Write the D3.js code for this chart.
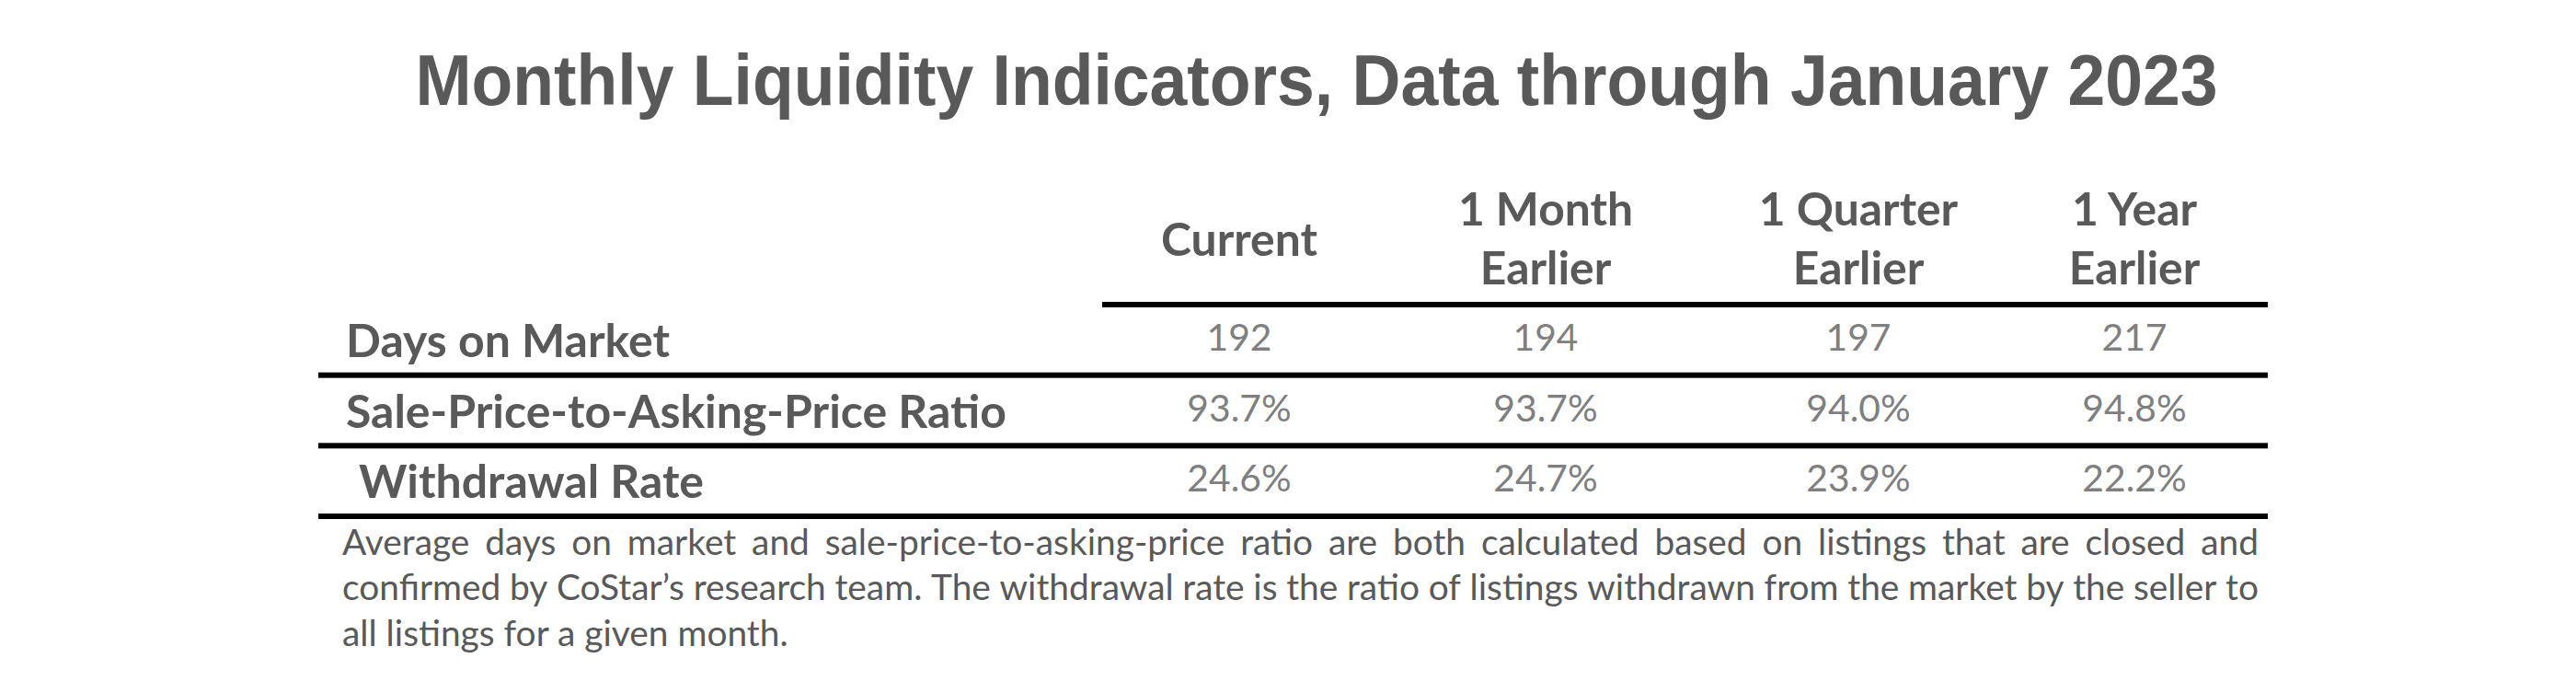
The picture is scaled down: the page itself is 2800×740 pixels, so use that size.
<!DOCTYPE html>
<html>
<head>
<meta charset="utf-8">
<script src="https://cdnjs.cloudflare.com/ajax/libs/d3/7.8.5/d3.min.js"></script>
<style>
  html, body { margin: 0; padding: 0; background: #fff; }
  svg { display: block; }
</style>
</head>
<body>
<div id="chart"></div>
<script>
// table content
var title = "Monthly Liquidity Indicators, Data through January 2023";
var columns = ["Current", "1 Month Earlier", "1 Quarter Earlier", "1 Year Earlier"];
var headerLines = [["Current"], ["1 Month", "Earlier"], ["1 Quarter", "Earlier"], ["1 Year", "Earlier"]];
var rowLabels = ["Days on Market", "Sale-Price-to-Asking-Price Ratio", "Withdrawal Rate"];
var daysOnMarket = [192, 194, 197, 217];
var saleToAskRatio = [93.7, 93.7, 94.0, 94.8];
var withdrawalRate = [24.6, 24.7, 23.9, 22.2];
var footnote = [
    "Average days on market and sale-price-to-asking-price ratio are both calculated based on listings that are closed and",
    "confirmed by CoStar\u2019s research team. The withdrawal rate is the ratio of listings withdrawn from the market by the seller to",
    "all listings for a given month."
];

var W = 2800, H = 740;
var labelColor = "#595959", valueColor = "#7f7f7f";
var tableFont = "Lato, 'Open Sans', sans-serif";

var svg = d3.select("#chart").append("svg").attr("width", W).attr("height", H);

// measure helper: font size that makes a string a given width
function fitSize(str, family, weight, targetW) {
    var t = svg.append("text").attr("font-family", family).attr("font-weight", weight)
        .attr("font-size", 100).text(str);
    var w = t.node().getComputedTextLength();
    t.remove();
    return 100 * targetW / w;
}

var rows = [
    { label: rowLabels[0], values: daysOnMarket, fmt: d3.format("d") },
    { label: rowLabels[1], values: saleToAskRatio, fmt: function (v) { return d3.format(".1f")(v) + "%"; } },
    { label: rowLabels[2], values: withdrawalRate, fmt: function (v) { return d3.format(".1f")(v) + "%"; } }
];

var x = d3.scaleOrdinal().domain(columns).range([1347, 1680, 2020, 2320]);
var y = d3.scaleBand().domain(rowLabels).range([331, 561]);

// title (a bit condensed, like the original)
svg.append("text")
    .attr("x", 1431).attr("y", 114)
    .attr("text-anchor", "middle")
    .attr("font-family", "'Liberation Sans', Arial, sans-serif")
    .attr("font-weight", "bold")
    .attr("font-size", 77)
    .attr("textLength", 1959)
    .attr("lengthAdjust", "spacingAndGlyphs")
    .attr("fill", labelColor)
    .text(title);

var headSize = fitSize("Current", tableFont, "bold", 170);
var labelSize = fitSize(rowLabels[1], tableFont, "bold", 718);
var valueSize = fitSize("192", tableFont, "normal", 71);

// column headers
columns.forEach(function (c, i) {
    var lines = headerLines[i];
    var base = lines.length == 1 ? [278] : [245, 309];
    lines.forEach(function (ln, j) {
        svg.append("text")
            .attr("x", x(c)).attr("y", base[j])
            .attr("text-anchor", "middle")
            .attr("font-family", tableFont).attr("font-weight", "bold")
            .attr("font-size", headSize)
            .attr("fill", labelColor)
            .text(ln);
    });
});

// header underline
svg.append("rect")
    .attr("x", 1198).attr("y", y(rowLabels[0]) - 3)
    .attr("width", 2465 - 1198).attr("height", 6)
    .attr("fill", "#000");

// rows
var rowG = svg.selectAll(".row").data(rows).enter().append("g").attr("class", "row");

rowG.append("text")
    .attr("x", function (d, i) { return i == 2 ? 390 : 376; })
    .attr("y", function (d) { return y(d.label) + 57; })
    .attr("font-family", tableFont).attr("font-weight", "bold")
    .attr("font-size", labelSize)
    .attr("fill", labelColor)
    .text(function (d) { return d.label; });

rowG.selectAll(".val")
    .data(function (d) { return d.values.map(function (v, i) { return { row: d, v: v, col: columns[i] }; }); })
    .enter().append("text")
    .attr("class", "val")
    .attr("x", function (d) { return x(d.col); })
    .attr("y", function (d) { return y(d.row.label) + 50; })
    .attr("text-anchor", "middle")
    .attr("font-family", tableFont)
    .attr("font-size", valueSize)
    .attr("fill", valueColor)
    .text(function (d) { return d.row.fmt(d.v); });

rowG.append("rect")
    .attr("x", 346)
    .attr("y", function (d) { return y(d.label) + y.bandwidth() - 3; })
    .attr("width", 2465 - 346).attr("height", 6)
    .attr("fill", "#000");

// footnote, justified like the original
var noteLeft = 372, noteRight = 2455;
var noteSize = fitSize(footnote[1], tableFont, "normal", noteRight - noteLeft);
var noteBase = [603, 652, 702];

footnote.forEach(function (line, i) {
    if (i == footnote.length - 1) {
        svg.append("text")
            .attr("x", noteLeft).attr("y", noteBase[i])
            .attr("font-family", tableFont).attr("font-size", noteSize)
            .attr("fill", labelColor)
            .text(line);
        return;
    }
    var words = line.split(" ");
    var ws = words.map(function (w) {
        var t = svg.append("text").attr("font-family", tableFont).attr("font-size", noteSize).text(w);
        var len = t.node().getComputedTextLength();
        t.remove();
        return len;
    });
    var gap = (noteRight - noteLeft - d3.sum(ws)) / (words.length - 1);
    var cx = noteLeft;
    words.forEach(function (w, k) {
        svg.append("text")
            .attr("x", cx).attr("y", noteBase[i])
            .attr("font-family", tableFont).attr("font-size", noteSize)
            .attr("fill", labelColor)
            .text(w);
        cx += ws[k] + gap;
    });
});
</script>
</body>
</html>
